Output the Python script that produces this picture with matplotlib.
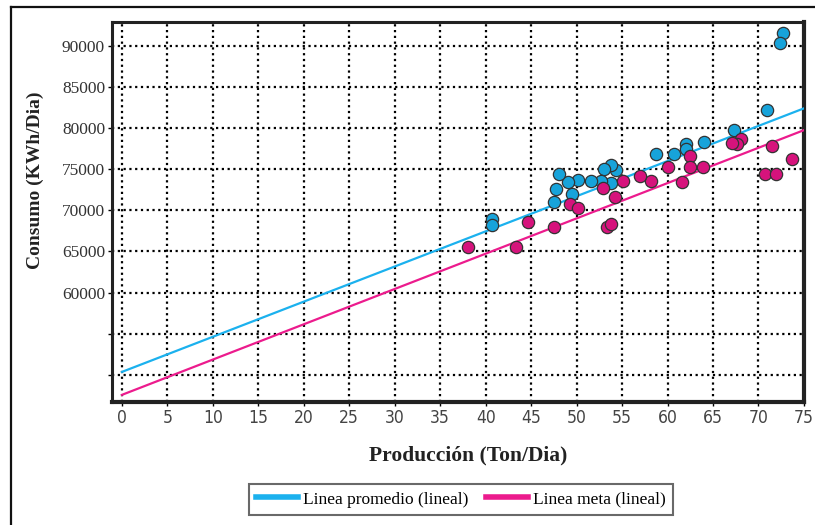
'''
    Consumo vs Produccion con lineas de tendencia
'''

import matplotlib
matplotlib.use('Agg')
import matplotlib.pyplot as plt
from matplotlib.lines import Line2D
from matplotlib.ticker import FixedLocator, FixedFormatter

# puntos promedio (azul)
prom_x = [72.7, 72.4, 70.9, 67.3, 64.0, 62.0, 62.0, 60.7, 58.7, 54.3, 53.8, 53.0,
          53.8, 52.7, 51.6, 50.2, 49.0, 48.1, 47.7, 47.5, 49.5, 40.7, 40.7]
prom_y = [91580, 90360, 82190, 79770, 78270, 78070, 77460, 76860, 76830, 74960, 75550, 75070,
          73330, 73540, 73570, 73700, 73450, 74460, 72570, 71060, 71970, 68900, 68230]

# puntos meta (rosado)
meta_x = [73.7, 71.5, 70.7, 71.9, 68.1, 67.6, 67.1, 63.9, 62.5, 62.5, 60.0, 61.6, 58.2,
          57.0, 55.1, 52.9, 54.2, 49.3, 50.1, 53.3, 53.8, 44.6, 47.5, 38.1, 43.3]
meta_y = [76210, 77860, 74400, 74400, 78670, 78070, 78150, 75310, 76650, 75310, 75310, 73450, 73540,
          74220, 73540, 72690, 71600, 70760, 70260, 68030, 68350, 68600, 68030, 65600, 65600]

# lineas de tendencia (extremos)
linea_x = [0, 75]
linea_prom = [50360, 82400]
linea_meta = [47570, 79750]

x_ticks = list(range(0, 80, 5))
y_ticks = list(range(50000, 95000, 5000))
y_labels = ['', ''] + [str(v) for v in range(60000, 95000, 5000)]

c_prom_pt = '#17a3da'
c_meta_pt = '#d6137c'
c_prom_ln = '#1bb1ee'
c_meta_ln = '#ec1b8d'


def draw():
    fig = plt.figure(figsize=(8.15, 5.25), dpi=100)
    ax = fig.add_axes([0.1374, 0.2343, 0.849, 0.7238])

    ax.plot(linea_x, linea_prom, color=c_prom_ln, lw=1.6, zorder=3,
            label='Linea promedio (lineal)')
    ax.plot(linea_x, linea_meta, color=c_meta_ln, lw=1.6, zorder=3,
            label='Linea meta (lineal)')
    ax.scatter(prom_x, prom_y, s=78, color=c_prom_pt, edgecolor='#333333',
               linewidth=0.9, zorder=4)
    ax.scatter(meta_x, meta_y, s=78, color=c_meta_pt, edgecolor='#333333',
               linewidth=0.9, zorder=4)

    ax.set_xlim(-1.1, 75)
    ax.set_ylim(46700, 92900)
    ax.xaxis.set_major_locator(FixedLocator(x_ticks))
    ax.yaxis.set_major_locator(FixedLocator(y_ticks))
    ax.yaxis.set_major_formatter(FixedFormatter(y_labels))

    ax.grid(True, color='black', linestyle=(0, (1, 1.6)), linewidth=1.6)
    ax.set_axisbelow(True)
    ax.tick_params(axis='both', length=3, width=1, direction='out', pad=2)
    for lab in ax.get_yticklabels():
        lab.set_fontfamily('Liberation Serif')
        lab.set_fontsize(12.5)
        lab.set_color('#333333')
    for lab in ax.get_xticklabels():
        lab.set_fontfamily('DejaVu Sans')
        lab.set_fontstretch('condensed')
        lab.set_fontweight('light')
        lab.set_fontsize(12.5)
        lab.set_color('#444444')

    for side in ['left', 'top']:
        ax.spines[side].set_linewidth(2.2)
    for side in ['right', 'bottom']:
        ax.spines[side].set_linewidth(3)
    for s in ax.spines.values():
        s.set_color('#222222')

    fig.text(35 / 815, 1 - 180 / 525, 'Consumo (KWh/Dia)', rotation=90,
             ha='center', va='center', family='Liberation Serif',
             weight='bold', fontsize=14, color='#222222')
    fig.text(468 / 815, 1 - 455 / 525, 'Producción (Ton/Dia)',
             ha='center', va='center', family='Liberation Serif',
             weight='bold', fontsize=15.5, color='#222222')

    leg = fig.legend(loc='center', bbox_to_anchor=(461 / 815, 1 - 499.5 / 525),
                     ncol=2, frameon=True, fancybox=False, handlelength=2.4,
                     handletextpad=0.3, columnspacing=1.0, borderpad=0.4,
                     prop={'family': 'Liberation Serif', 'size': 12.5})
    leg.get_frame().set_edgecolor('#444444')
    leg.get_frame().set_linewidth(1.5)
    for h in leg.legend_handles:
        h.set_linewidth(4)

    # borde de la figura (izquierda y arriba)
    fig.add_artist(Line2D([11 / 815, 11 / 815], [0, 1 - 7 / 525],
                          color='#111111', lw=1.6, transform=fig.transFigure))
    fig.add_artist(Line2D([11 / 815, 1], [1 - 7 / 525, 1 - 7 / 525],
                          color='#111111', lw=1.6, transform=fig.transFigure))

    fig.savefig('out.png', dpi=100)


if __name__ == '__main__':
    draw()
